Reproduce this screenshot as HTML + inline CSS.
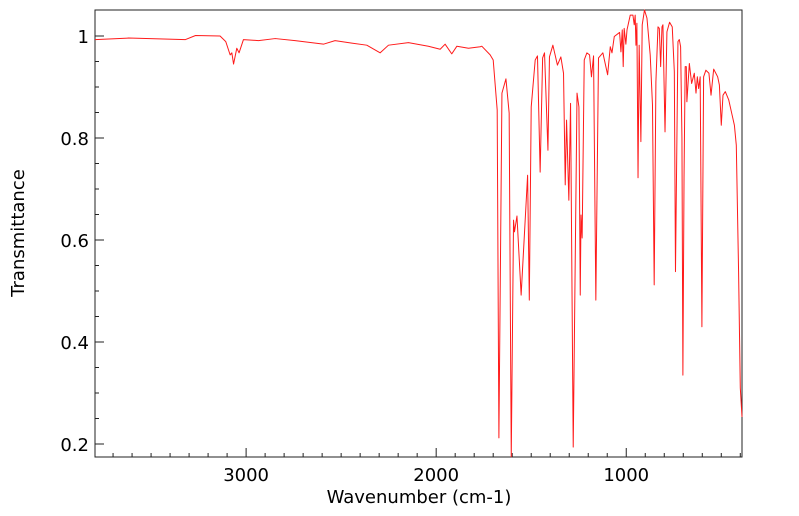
<!DOCTYPE html>
<html><head><meta charset="utf-8"><style>
html,body{margin:0;padding:0;background:#fff;width:799px;height:516px;overflow:hidden}
svg{display:block;font-family:"DejaVu Sans","Liberation Sans",sans-serif}
</style></head><body>
<svg id="chart" width="799" height="516" viewBox="0 0 799 516" xmlns="http://www.w3.org/2000/svg">
<rect x="95" y="10" width="647" height="447" fill="#fff" stroke="#222" stroke-width="1"/>
<g id="ticks"></g>
<path id="line" fill="none" stroke="#ff1a1a" stroke-width="1" stroke-linejoin="round"/>
<text x="419" y="503" font-size="18" text-anchor="middle">Wavenumber (cm-1)</text>
<text x="0" y="0" font-size="18" text-anchor="middle" transform="translate(24,233) rotate(-90)">Transmittance</text>
</svg>
<script>
const wavenumbers = [3795,3619,3319,3266,3137,3107,3084,3075,3066,3049,3037,3014,2935,2847,2742,2593,2532,2444,2365,2295,2251,2146,2041,1979,1953,1918,1891,1830,1768,1760,1716,1700,1679,1670,1654,1633,1616,1605,1593,1588,1575,1553,1519,1510,1500,1479,1467,1453,1440,1430,1412,1404,1386,1362,1344,1330,1321,1314,1302,1293,1279,1259,1249,1242,1238,1232,1221,1207,1193,1183,1172,1160,1146,1123,1098,1084,1075,1063,1035,1028,1021,1016,1011,1002,996,979,965,958,953,949,944,938,932,923,916,904,891,874,862,853,844,833,826,819,812,807,796,786,772,758,747,741,728,721,714,707,702,696,690,684,681,668,656,642,633,626,619,611,602,593,581,565,554,540,519,510,500,491,479,461,443,431,421,409,400,391];
const transmittance = [0.993,0.996,0.993,1.001,1.000,0.989,0.963,0.967,0.945,0.976,0.967,0.993,0.991,0.995,0.991,0.984,0.991,0.986,0.982,0.967,0.982,0.987,0.980,0.974,0.984,0.965,0.980,0.976,0.979,0.980,0.963,0.953,0.855,0.212,0.888,0.916,0.849,0.175,0.639,0.616,0.647,0.492,0.727,0.482,0.861,0.953,0.961,0.733,0.957,0.967,0.776,0.959,0.982,0.943,0.959,0.927,0.708,0.835,0.678,0.868,0.194,0.888,0.861,0.492,0.649,0.604,0.953,0.967,0.963,0.920,0.961,0.482,0.957,0.967,0.924,0.979,0.967,0.999,1.007,0.969,1.012,0.940,1.015,0.984,1.012,1.041,1.041,1.022,1.041,0.982,1.025,0.722,0.982,0.793,1.022,1.051,1.035,0.963,0.865,0.512,0.910,1.018,1.015,0.940,1.018,1.022,0.812,1.008,1.027,1.018,0.930,0.538,0.989,0.993,0.979,0.800,0.335,0.722,0.940,0.940,0.871,0.946,0.907,0.927,0.888,0.920,0.897,0.920,0.430,0.920,0.933,0.927,0.884,0.935,0.920,0.904,0.825,0.884,0.891,0.875,0.845,0.825,0.786,0.538,0.310,0.253];
const xMajorTicks = [3000,2000,1000];
const yMajorTicks = [0.2,0.4,0.6,0.8,1];
const yTickLabels = ["0.2","0.4","0.6","0.8","1"];

const NS="http://www.w3.org/2000/svg";
const X0=95,X1=742,Y0=10,Y1=457;
const WN_MAX=3795,WN_MIN=391,T_MAX=1.051,T_MIN=0.1745;
function xs(w){return X0+(WN_MAX-w)/(WN_MAX-WN_MIN)*(X1-X0);}
function ys(t){return Y0+(T_MAX-t)/(T_MAX-T_MIN)*(Y1-Y0);}

let d="";
for(let i=0;i<wavenumbers.length;i++){
  d+=(i?"L":"M")+xs(wavenumbers[i]).toFixed(2)+","+ys(Math.max(T_MIN,Math.min(T_MAX,transmittance[i]))).toFixed(2);
}
document.getElementById("line").setAttribute("d",d);

const g=document.getElementById("ticks");
function ln(x1,y1,x2,y2,name){
  const l=document.createElementNS(NS,"line");
  l.setAttribute("x1",x1);l.setAttribute("y1",y1);l.setAttribute("x2",x2);l.setAttribute("y2",y2);
  l.setAttribute("stroke","#222");l.setAttribute("stroke-width","1");
  
  
  g.appendChild(l);
}
function tx(x,y,s,anchor,name){
  const t=document.createElementNS(NS,"text");
  t.setAttribute("x",x);t.setAttribute("y",y);t.setAttribute("font-size","18");t.setAttribute("text-anchor",anchor);
  t.textContent=s;
  
  
  g.appendChild(t);
}
for(let w=3700;w>=400;w-=100){
  const x=xs(w);
  const major=xMajorTicks.indexOf(w)>=0;
  ln(x,Y1,x,Y1-(major?9:4),major?"x-major-tick":"x-minor-tick");
}
xMajorTicks.forEach(w=>tx(xs(w),481,String(w),"middle","x-tick-label"));
for(let k=4;k<=20;k++){
  const t=k*0.05;
  if(t<T_MIN||t>T_MAX)continue;
  const major=(k%4===0);
  const y=ys(t);
  ln(X0,y,X0+(major?9:4),y,major?"y-major-tick":"y-minor-tick");
}
yMajorTicks.forEach((t,i)=>tx(89,ys(t)+7,yTickLabels[i],"end","y-tick-label"));
</script>
</body></html>
